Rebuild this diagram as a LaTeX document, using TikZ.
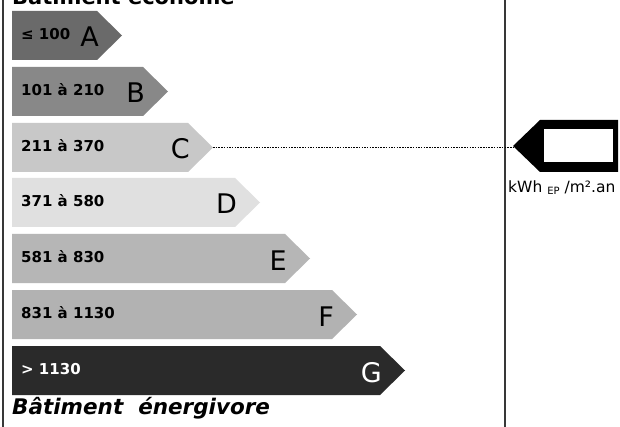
\documentclass[tikz,border=0pt]{standalone}
\usepackage{fontspec}
\setmainfont{DejaVu Sans}
\definecolor{barA}{HTML}{6A6A6A}
\definecolor{barB}{HTML}{888888}
\definecolor{barC}{HTML}{C8C8C8}
\definecolor{barD}{HTML}{E0E0E0}
\definecolor{barE}{HTML}{B6B6B6}
\definecolor{barF}{HTML}{B2B2B2}
\definecolor{barG}{HTML}{2A2A2A}
\definecolor{frame}{HTML}{383838}
\tikzset{
  rangetxt/.style={anchor=base west, inner sep=0pt, font=\fontsize{15}{15}\selectfont\bfseries},
  lettertxt/.style={anchor=base east, inner sep=0pt, font=\fontsize{27}{27}\selectfont},
  framelines/.style={line width=1.5pt, draw=frame},
}
\begin{document}
\begin{tikzpicture}[x=1pt,y=-1pt]
\useasboundingbox (0,0) rectangle (620,427);
\clip (0,0) rectangle (620,427);
\fill[white] (0,0) rectangle (620,427);
\draw[framelines] (3,0) -- (3,427);
\draw[framelines] (505,0) -- (505,427);
\node[anchor=base west, inner sep=0pt, font=\fontsize{21}{21}\selectfont\bfseries] (title) at (12,5) {Bâtiment économe};
\foreach \t/\e/\c/\r/\l/\tc [count=\i] in {
  11/122/barA/{≤ 100}/A/black,
  67/168/barB/{101 à 210}/B/black,
  123/213/barC/{211 à 370}/C/black,
  178/260/barD/{371 à 580}/D/black,
  234/310/barE/{581 à 830}/E/black,
  290/357/barF/{831 à 1130}/F/black,
  346/405/barG/{> 1130}/G/white}{
  \fill[\c] (12,\t) -- (\e-25,\t) -- (\e,\t+24.5) -- (\e-25,\t+49) -- (12,\t+49) -- cycle;
  \node[rangetxt, text=\tc] (range\i) at (21,\t+28.5) {\r};
  \node[lettertxt, text=\tc] (letter\i) at (\e-23,\t+36) {\l};
}
\coordinate (ctip) at (213,147.5);
\fill[black] (513,146) -- (540,120) -- (618,120) -- (618,172) -- (540,172) -- cycle;
\fill[white] (544,129) rectangle (613,162);
\coordinate (ltip) at (513,147.5);
\draw[line width=1.8pt, dash pattern=on 1.5pt off 1.2pt] (ctip) -- (ltip);
\node[anchor=base west, inner sep=0pt, font=\fontsize{15.5}{15.5}\selectfont] (unit) at (508,193) {kWh \raisebox{-2pt}{\fontsize{10}{10}\selectfont EP} /m².an};
\node[anchor=base west, inner sep=0pt, font=\fontsize{21.5}{21.5}\selectfont\bfseries\itshape] (bottom) at (12,414) {Bâtiment\ \ énergivore};
\end{tikzpicture}
\end{document}
